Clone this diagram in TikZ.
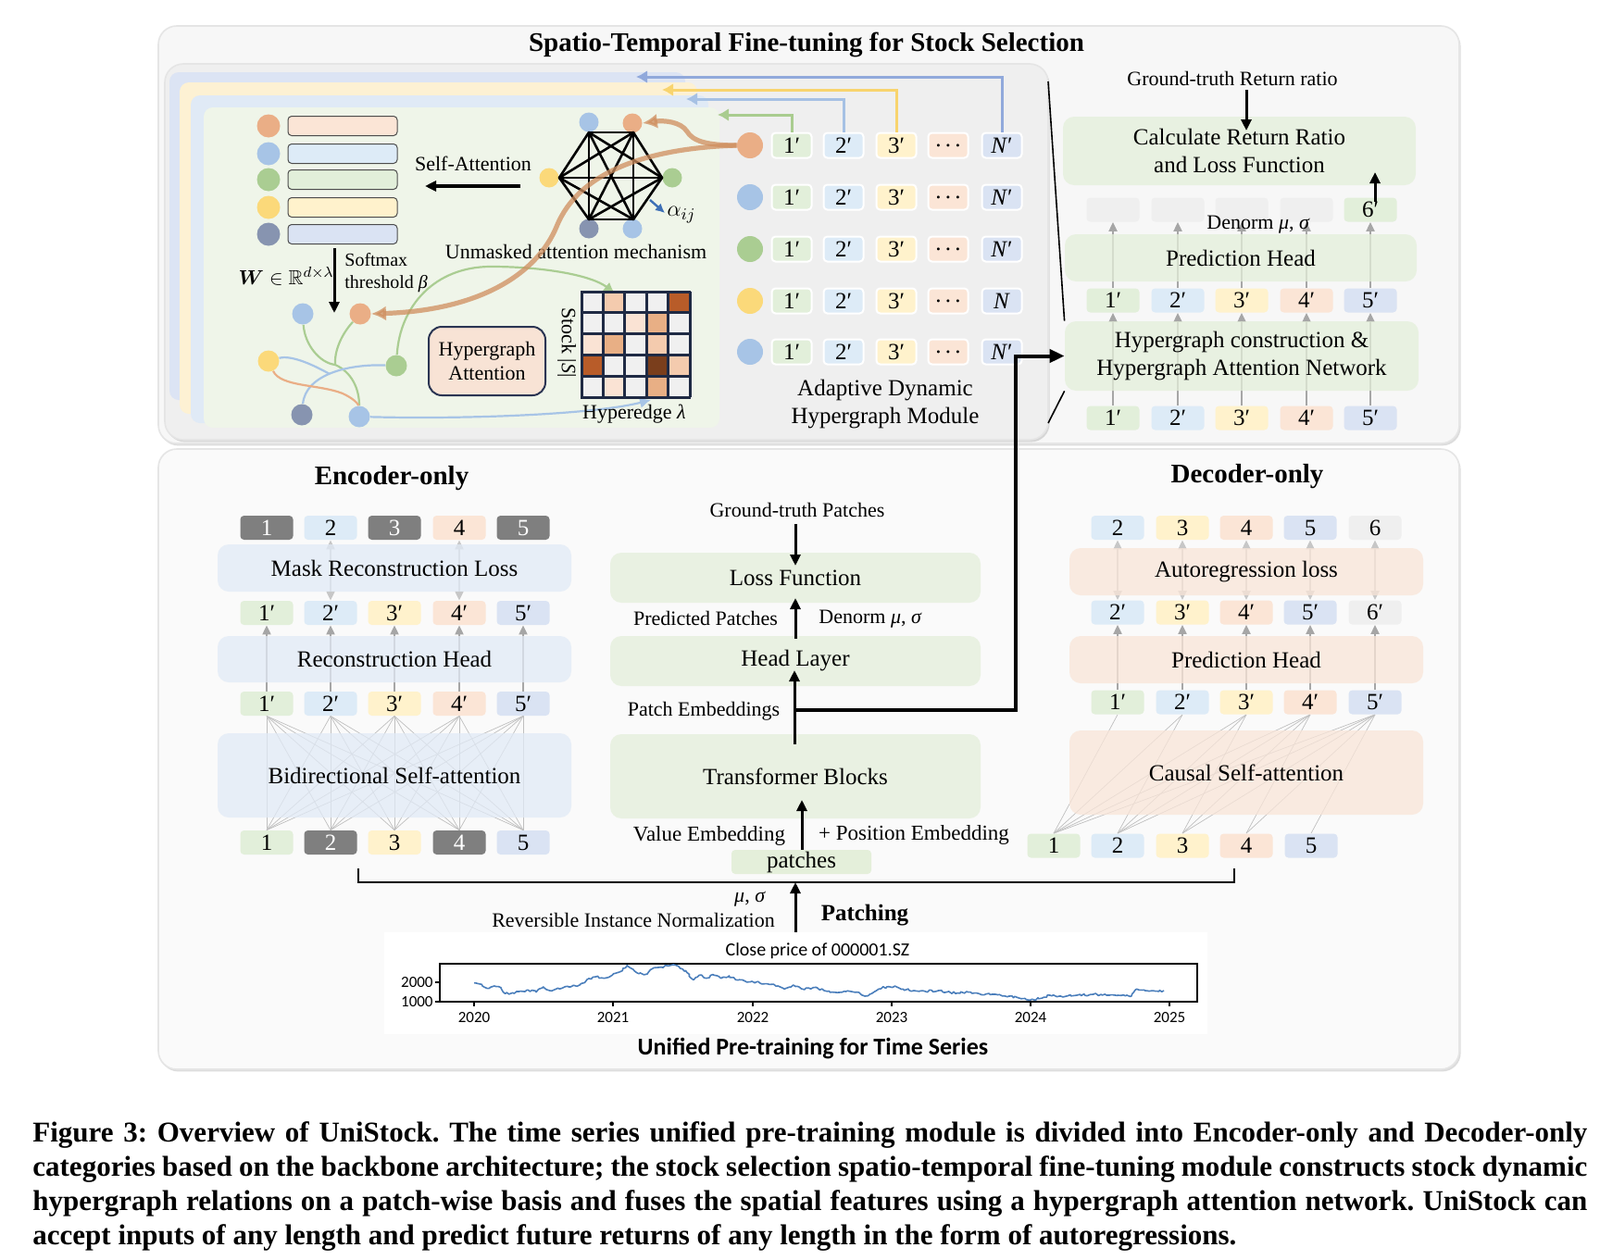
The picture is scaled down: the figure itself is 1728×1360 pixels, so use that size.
\documentclass[tikz,border=0pt]{standalone}
\usepackage{amssymb}
\usepackage{bm}
\usepackage{fontspec}
\setmainfont{Liberation Serif}
\newfontfamily\chartfont{Carlito}
\usetikzlibrary{arrows.meta,shadows,decorations.pathmorphing}
\pgfdeclarelayer{bg}
\pgfdeclarelayer{ln}
\pgfsetlayers{bg,ln,main}
\definecolor{cG}{HTML}{E2EFDA}
\definecolor{cB}{HTML}{DDEBF7}
\definecolor{cY}{HTML}{FFF2CC}
\definecolor{cO}{HTML}{FBE5D6}
\definecolor{cS}{HTML}{DAE3F3}
\definecolor{cGr}{HTML}{EFEFEF}
\definecolor{cDk}{HTML}{7F7F7F}
\definecolor{bxG}{HTML}{E4EFDA}
\definecolor{bxB}{HTML}{E1EAF6}
\definecolor{bxO}{HTML}{F9E5D8}
\definecolor{ciO}{HTML}{EAAE86}
\definecolor{ciB}{HTML}{A7C4E6}
\definecolor{ciG}{HTML}{AACD92}
\definecolor{ciY}{HTML}{FBD97A}
\definecolor{ciS}{HTML}{8794B0}
\definecolor{panA}{HTML}{F7F7F7}
\definecolor{panC}{HTML}{FAFAFA}
\definecolor{panB}{HTML}{EFEFEF}
\definecolor{shB}{HTML}{DCE4F4}
\definecolor{shY}{HTML}{FDF1D3}
\definecolor{shL}{HTML}{E0EAF6}
\definecolor{shG}{HTML}{EFF5E9}
\definecolor{arG}{HTML}{A9CC8F}
\definecolor{arL}{HTML}{A6C1E4}
\definecolor{arY}{HTML}{F8D46E}
\definecolor{arB}{HTML}{91A9DB}
\definecolor{orc}{HTML}{CF8E5E}
\definecolor{navy}{HTML}{1F2A44}
\definecolor{mg}{HTML}{F0F0F0}
\definecolor{mL}{HTML}{F4CBAE}
\definecolor{m0}{HTML}{FAE3D4}
\definecolor{mM}{HTML}{E8AF85}
\definecolor{mD}{HTML}{B85C29}
\definecolor{mX}{HTML}{7A3E1C}
\definecolor{hab}{HTML}{F8E3D5}
\definecolor{hbd}{HTML}{2B3553}
\definecolor{series}{HTML}{4A7EBB}
\definecolor{alphaB}{HTML}{3D6FB6}
\tikzset{
  tok/.style={rounded corners=2pt, minimum width=28.5pt, minimum height=13pt, inner sep=0pt, font=\fontsize{12.5}{14}\selectfont},
  stok/.style={tok, minimum width=21.5pt, minimum height=13.5pt, draw=white, line width=1pt},
  blk/.style={rounded corners=6pt, inner sep=0pt, font=\fontsize{12.5}{15}\selectfont, align=center, fill opacity=0.75, text opacity=1},
  garrow/.style={draw=black!35, line width=1pt, -{Triangle[length=5pt,width=4.5pt]}},
  gdarrow/.style={draw=black!22, line width=1pt, {Triangle[length=5pt,width=4.5pt]}-{Triangle[length=5pt,width=4.5pt]}},
  attn/.style={draw=black!25, line width=0.35pt},
  barrow/.style={draw=black, line width=1.5pt, -{Triangle[length=6pt,width=5.5pt]}},
  lbl/.style={font=\fontsize{11}{13}\selectfont, inner sep=0pt},
  circ/.style={circle, inner sep=0pt},
  colar/.style={line width=1.5pt, -{Latex[length=6pt,width=7pt]}},
  hgG/.style={draw=ciG, line width=1.1pt},
  hgB/.style={draw=ciB, line width=1.1pt},
  hgO/.style={draw=ciO, line width=1.1pt},
  panel/.style={rounded corners=10pt, draw=black!10, line width=0.8pt, drop shadow={shadow xshift=0.8pt, shadow yshift=-1.2pt, opacity=0.3, fill=black!45}},
  capline/.style={anchor=base west, inner sep=0pt, font=\bfseries\fontsize{15.5}{17}\selectfont},
}
\begin{document}
\frenchspacing
\begin{tikzpicture}[x=0.5pt,y=-0.5pt]
\useasboundingbox (0,0) rectangle (1728,1360);
\begin{pgfonlayer}{bg}
\fill[white] (0,0) rectangle (1728,1360);
\path[panel, fill=panA] (171,28) rectangle (1576,479);
\path[panel, fill=panC] (171,485) rectangle (1576,1155);
\path[panel, fill=panB] (178,69) rectangle (1132,475);
\fill[shB, rounded corners=5pt] (183,78) rectangle (740,432);
\fill[shY, rounded corners=5pt] (194,89) rectangle (753,447);
\fill[shL, rounded corners=5pt] (206,103) rectangle (765,457);
\fill[shG, rounded corners=5pt] (220,116) rectangle (777,462);
\end{pgfonlayer}

% ===== title
\node[font=\bfseries\fontsize{14.5}{16}\selectfont, inner sep=0pt] (title) at (871,48) {Spatio-Temporal Fine-tuning for Stock Selection};

% ===== feature bars
\foreach \y/\c/\f [count=\i] in {136/ciO/cO,166/ciB/cB,194/ciG/cG,224/ciY/cY,253/ciS/cS} {
  \node[circ, fill=\c, minimum size=12.5pt] (fc\i) at (290,\y) {};
  \node[draw=black!70, line width=0.5pt, fill=\f, rounded corners=2pt, minimum width=59pt, minimum height=10.5pt, inner sep=0pt] (fb\i) at (370,\y) {};
}
\node[lbl] (sa) at (511,177) {Self-Attention};
\coordinate (saA) at (562,201);
\coordinate (saB) at (459,201);
\draw[barrow, line width=2pt] (saA) -- (saB);

% ===== hexagon
\coordinate (h1) at (636,143);
\coordinate (h2) at (684,143);
\coordinate (h3) at (715,192);
\coordinate (h4) at (684,237);
\coordinate (h5) at (636,237);
\coordinate (h6) at (604,192);
\node[circ, fill=ciB, minimum size=10.5pt] (hc1) at (636,132) {};
\node[circ, fill=ciO, minimum size=10.5pt] (hc2) at (683,133) {};
\node[circ, fill=ciG, minimum size=10.5pt] (hc3) at (726,192) {};
\node[circ, fill=ciB, minimum size=10.5pt] (hc4) at (683,247) {};
\node[circ, fill=ciS, minimum size=10.5pt] (hc5) at (636,247) {};
\node[circ, fill=ciY, minimum size=10.5pt] (hc6) at (593,192) {};
\foreach \a/\b in {1/2,1/3,1/4,1/5,1/6,2/3,2/4,2/5,2/6,3/4,3/5,3/6,4/5,4/6,5/6}
  \draw[line width=1.3pt, line cap=round] (h\a) -- (h\b);
\coordinate (alA) at (702,216);
\coordinate (alB) at (718,230);
\draw[draw=alphaB, line width=1.2pt, -{Latex[length=5pt,width=5pt]}] (alA) -- (alB);
\node[font=\fontsize{13}{15}\selectfont, inner sep=0pt] (alpha) at (736,232) {$\alpha_{ij}$};
\node[lbl] (unm) at (622,272) {Unmasked attention mechanism};

% ===== W / softmax
\coordinate (wA) at (361,268);
\coordinate (wB) at (361,338);
\draw[barrow] (wA) -- (wB);
\node[font=\fontsize{11}{13}\selectfont, inner sep=0pt] (wlab) at (309,298) {$\bm{W}\in\mathbb{R}^{d\times\lambda}$};
\node[anchor=west, font=\fontsize{10}{12}\selectfont, inner sep=0pt] (smx) at (372,281) {Softmax};
\node[anchor=west, font=\fontsize{10}{12}\selectfont, inner sep=0pt] (thr) at (372,307) {threshold \textit{β}};

% ===== hypergraph nodes
\node[circ, fill=ciB, minimum size=11.5pt] (hn1) at (327,339) {};
\node[circ, fill=ciO, minimum size=11.5pt] (hn2) at (389,339) {};
\node[circ, fill=ciY, minimum size=11.5pt] (hn3) at (290,390) {};
\node[circ, fill=ciG, minimum size=11.5pt] (hn4) at (428,395) {};
\node[circ, fill=ciS, minimum size=11.5pt] (hn5) at (326,448) {};
\node[circ, fill=ciB, minimum size=11.5pt] (hn6) at (388,450) {};
\coordinate (jg) at (362,394);
\coordinate (jb) at (356,404);
\coordinate (jo) at (370,425);
\coordinate (mtop) at (664,317);
\coordinate (mbot) at (703,432);
\begin{pgfonlayer}{ln}
\draw[hgG] (hn1) .. controls (329,372) and (345,392) .. (jg);
\draw[hgG] (hn2) .. controls (368,362) and (361,380) .. (jg);
\draw[hgG] (jg) .. controls (380,402) and (388,420) .. (hn6);
\draw[hgB] (hn3) .. controls (315,383) and (340,395) .. (jb);
\draw[hgB] (hn4) .. controls (375,393) and (330,405) .. (hn5);
\draw[hgO] (hn3) .. controls (303,418) and (345,415) .. (jo) .. controls (381,430) and (387,436) .. (hn6);
\end{pgfonlayer}
\draw[hgG, -{Latex[length=6pt,width=6pt]}] (hn4) .. controls (432,330) and (470,288) .. (530,288) .. controls (590,288) and (640,298) .. (mtop);
\draw[hgB, -{Latex[length=6pt,width=6pt]}] (hn6) .. controls (500,453) and (640,448) .. (mbot);

% ===== hypergraph attention box
\node[draw=hbd, line width=1pt, fill=hab, rounded corners=7pt, minimum width=63pt, minimum height=37pt, inner sep=0pt, align=center, font=\fontsize{11}{13}\selectfont] (hga) at (526,390) {Hypergraph\\Attention};

% ===== matrix
\foreach \row [count=\r] in {{mg,mL,mg,mg,mD},{mg,mg,m0,mM,mg},{m0,mM,mg,mL,mg},{mD,mg,mg,mX,mL},{mg,m0,mg,mM,mg}} {
  \foreach \c [count=\k] in \row {
    \fill[\c] ({628+(\k-1)*23.4},{315+(\r-1)*22.8}) rectangle ++(23.4,22.8);
  }
}
\foreach \k in {0,...,5} {
  \draw[navy, line width=1.5pt] ({628+\k*23.4},315) -- ({628+\k*23.4},429);
  \draw[navy, line width=1.5pt] (627.3,{315+\k*22.8}) -- (745.7,{315+\k*22.8});
}
\node[inner sep=0pt, minimum width=58.5pt, minimum height=57pt] (mat) at (686.5,372) {};
\node[lbl, rotate=-90] (stk) at (612,370) {Stock |\textit{S}|};
\node[lbl] (hye) at (685,447) {Hyperedge \textit{λ}};

% ===== token grid of module
\foreach \r/\y/\cc/\last in {1/157/ciO/{\textit{N}′},2/213/ciB/{\textit{N}′},3/269/ciG/{\textit{N}′},4/325/ciY/{\textit{N}},5/380/ciB/{\textit{N}′}} {
  \node[circ, fill=\cc, minimum size=14pt] (sc\r) at (810,\y) {};
  \node[stok, fill=cG] (s\r1) at (855,\y) {1′};
  \node[stok, fill=cB] (s\r2) at (911,\y) {2′};
  \node[stok, fill=cY] (s\r3) at (968,\y) {3′};
  \node[stok, fill=cO] (s\r4) at (1024,\y) {.\,.\,.};
  \node[stok, fill=cS] (s\r5) at (1082,\y) {\last};
}
\coordinate (tgG) at (775,124);
\coordinate (tgL) at (741,107);
\coordinate (tgY) at (715,97);
\coordinate (tgB) at (687,83);
\draw[colar, draw=arG] (s11.north) |- (tgG);
\draw[colar, draw=arL] (s12.north) |- (tgL);
\draw[colar, draw=arY] (s13.north) |- (tgY);
\draw[colar, draw=arB] (s15.north) |- (tgB);
\node[blk, fill opacity=0] (adm) at (956,437) {Adaptive Dynamic\\Hypergraph Module};

% ===== orange attention arrows
\draw[draw=orc, opacity=0.75, line width=2.6pt, -{Latex[length=8pt,width=8pt]}] (sc1.west) .. controls (762,157) and (748,152) .. (742,142) .. controls (735,131) and (716,130) .. (hc2.east);
\draw[draw=orc, opacity=0.75, line width=2.6pt, -{Latex[length=8pt,width=8pt]}] (sc1.west) .. controls (700,160) and (625,185) .. (601,245) .. controls (580,295) and (520,335) .. (hn2.east);

% ===== top right column
\node[lbl] (gtr) at (1331,85) {Ground-truth Return ratio};
\node[blk, fill=bxG, minimum width=190.5pt, minimum height=37pt] (calc) at (1338.5,163) {Calculate Return Ratio\\and Loss Function};
\coordinate (gtA) at (1346,97);
\coordinate (gtB) at (1346,141);
\draw[barrow] (gtA) -- (gtB);
\foreach \x/\f/\t [count=\i] in {1202/cGr/{},1272/cGr/{},1341/cGr/{},1411/cGr/{},1480/cG/6′}
  \node[tok, fill=\f] (g\i) at (\x,226.5) {\t};
\node[blk, fill=bxG, minimum width=190pt, minimum height=25.5pt] (tph) at (1340,278.5) {Prediction Head};
\foreach \x/\f [count=\i] in {1202/cG,1272/cB,1341/cY,1411/cO,1480/cS} {
  \node[tok, fill=\f] (r\i) at (\x,324.5) {\i′};
  \node[tok, fill=\f] (q\i) at (\x,451.5) {\i′};
}
\node[blk, fill=bxG, minimum width=191pt, minimum height=37.5pt] (hgc) at (1341,384.5) {Hypergraph construction \&\\Hypergraph Attention Network};
\begin{pgfonlayer}{ln}
\foreach \i in {1,...,5} {
  \draw[garrow] (q\i.north) -- (r\i.south);
  \draw[garrow] (r\i.north) -- (g\i.south);
}
\end{pgfonlayer}
\coordinate (sxA) at (1485,218);
\coordinate (sxB) at (1485,186);
\draw[barrow] (sxA) -- (sxB);
\node[lbl] (dnm) at (1359,243) {Denorm \textit{μ}, \textit{σ}};
\coordinate (dv1) at (1132,88);
\coordinate (dv2) at (1132,457);
\draw[line width=0.8pt] (dv1) -- (hgc.north west);
\draw[line width=0.8pt] (hgc.south west) -- (dv2);

% ===== encoder
\node[font=\bfseries\fontsize{14.5}{16}\selectfont, inner sep=0pt] (enc) at (423,517) {Encoder-only};
\foreach \x/\t/\f/\tc [count=\i] in {288/1/cDk/white,357/2/cB/black,426/3/cDk/white,496/4/cO/black,565/5/cDk/white}
  \node[tok, fill=\f, text=\tc] (et\i) at (\x,570) {\t};
\foreach \x/\f [count=\i] in {288/cG,357/cB,426/cY,496/cO,565/cS} {
  \node[tok, fill=\f] (er\i) at (\x,662) {\i′};
  \node[tok, fill=\f] (eh\i) at (\x,760) {\i′};
}
\foreach \x/\t/\f/\tc [count=\i] in {288/1/cG/black,357/2/cDk/white,426/3/cY/black,496/4/cDk/white,565/5/cS/black}
  \node[tok, fill=\f, text=\tc] (eb\i) at (\x,910) {\t};
\node[blk, fill=bxB, minimum width=191pt, minimum height=25.5pt] (mrl) at (426,613.5) {Mask Reconstruction Loss};
\node[blk, fill=bxB, minimum width=191pt, minimum height=25pt] (rch) at (426,712) {Reconstruction Head};
\node[blk, fill=bxB, minimum width=191pt, minimum height=45.5pt] (bsa) at (426,837.5) {Bidirectional Self-attention};
\begin{pgfonlayer}{ln}
\foreach \i in {1,...,5} {
  \draw[garrow] (eh\i.north) -- (er\i.south);
  \foreach \j in {1,...,5} \draw[attn] (eb\i.north) -- (eh\j.south);
}
\draw[gdarrow] (er2.north) -- (et2.south);
\draw[gdarrow] (er4.north) -- (et4.south);
\end{pgfonlayer}

% ===== decoder
\node[font=\bfseries\fontsize{14.5}{16}\selectfont, inner sep=0pt] (dec) at (1347,515) {Decoder-only};
\foreach \x/\t/\f [count=\i] in {1207/2/cB,1277/3/cY,1346/4/cO,1415/5/cS,1485/6/cGr}
  \node[tok, fill=\f] (dt\i) at (\x,570) {\t};
\foreach \x/\t/\f [count=\i] in {1207/2′/cB,1277/3′/cY,1346/4′/cO,1415/5′/cS,1485/6′/cGr}
  \node[tok, fill=\f] (dr\i) at (\x,661.5) {\t};
\foreach \x/\f [count=\i] in {1207/cG,1277/cB,1346/cY,1415/cO,1485/cS}
  \node[tok, fill=\f] (dh\i) at (\x,758.5) {\i′};
\foreach \x/\f [count=\i] in {1138/cG,1207/cB,1277/cY,1346/cO,1416/cS}
  \node[tok, fill=\f] (db\i) at (\x,913.5) {\i};
\node[blk, fill=bxO, minimum width=191pt, minimum height=25.5pt] (arl) at (1346,617.5) {Autoregression loss};
\node[blk, fill=bxO, minimum width=191pt, minimum height=25.5pt] (dph) at (1346,712.5) {Prediction Head};
\node[blk, fill=bxO, minimum width=191pt, minimum height=45.5pt] (csa) at (1346,834.5) {Causal Self-attention};
\begin{pgfonlayer}{ln}
\foreach \i in {1,...,5} {
  \draw[garrow] (dh\i.north) -- (dr\i.south);
  \draw[gdarrow] (dr\i.north) -- (dt\i.south);
}
\foreach \j in {1,...,5} \foreach \i in {\j,...,5} \draw[attn] (db\j.north) -- (dh\i.south);
\end{pgfonlayer}

% ===== middle
\node[lbl] (gtp) at (861,551) {Ground-truth Patches};
\node[blk, fill=bxG, minimum width=200pt, minimum height=27pt] (lsf) at (859,624) {Loss Function};
\node[blk, fill=bxG, minimum width=200pt, minimum height=27pt] (hdl) at (859,714) {Head Layer};
\node[blk, fill=bxG, minimum width=200pt, minimum height=45.5pt] (trb) at (859,838.5) {Transformer Blocks};
\node[tok, fill=bxG, minimum width=75.5pt] (pch) at (865.5,931) {patches};
\node[lbl] (prp) at (762,668) {Predicted Patches};
\node[lbl] (dn2) at (940,669) {Denorm \textit{μ}, \textit{σ}};
\node[lbl] (pem) at (760,768) {Patch Embeddings};
\node[lbl, font=\fontsize{11.5}{13}\selectfont] (vem) at (766,903) {Value Embedding};
\node[lbl, font=\fontsize{11.5}{13}\selectfont] (pos) at (987,902) {+ Position Embedding};
\coordinate (gpA) at (859,566);
\coordinate (gpB) at (859,611);
\draw[barrow] (gpA) -- (gpB);
\coordinate (hlA) at (859,690);
\coordinate (hlB) at (859,646);
\draw[barrow] (hlA) -- (hlB);
\coordinate (tbA) at (858,804);
\coordinate (tbB) at (858,724);
\draw[barrow] (tbA) -- (tbB);
\coordinate (ptB) at (866,864);
\draw[barrow] (pch.north -| ptB) -- (ptB);
\coordinate (pej) at (858,767);
\coordinate (rt1) at (1097,767);
\draw[line width=2pt, -{Triangle[length=8pt,width=7pt]}] (pej) -- (rt1) |- (hgc.west);

% ===== bracket and normalization
\coordinate (bk1) at (387,938);
\coordinate (bk2) at (387,953);
\coordinate (bk3) at (1333,953);
\coordinate (bk4) at (1333,938);
\draw[line width=1.2pt] (bk1) -- (bk2) -- (bk3) -- (bk4);
\coordinate (rnA) at (859,1007);
\coordinate (rnB) at (859,953);
\draw[barrow] (rnA) -- (rnB);
\node[lbl] (musig) at (810,971) {\textit{μ}, \textit{σ}};
\node[lbl] (rin) at (684,994) {Reversible Instance Normalization};
\node[font=\bfseries\fontsize{12.5}{14}\selectfont, inner sep=0pt] (ptc) at (934,989) {Patching};

% ===== chart
\fill[white] (415,1007) rectangle (1304,1117);
\node[font=\chartfont\fontsize{10}{12}\selectfont, inner sep=0pt] (ctitle) at (883,1027) {Close price of 000001.SZ};
\draw[line width=0.6pt] (475,1041) rectangle (1293,1082);
\foreach \y/\l in {1061/2000,1082/1000} {
  \draw[line width=0.6pt] (475,\y) -- (470,\y);
  \node[anchor=east, font=\chartfont\fontsize{8.5}{10}\selectfont, inner sep=0pt] at (468,\y) {\l};
}
\foreach \x/\l in {512/2020,662/2021,813/2022,963/2023,1113/2024,1263/2025} {
  \draw[line width=0.6pt] (\x,1082) -- (\x,1087);
  \node[font=\chartfont\fontsize{8.5}{10}\selectfont, inner sep=0pt] at (\x,1099) {\l};
}
\begin{scope}[shift={(400,940)}, xscale=0.587, yscale=0.3333]
\draw[series, line width=0.8pt, line join=round, decorate, decoration={random steps, segment length=1.2pt, amplitude=0.6pt}]
 (191,365) -- (205,370) -- (215,383) -- (228,375) -- (240,380) -- (248,400) -- (262,397) -- (290,388) -- (305,395) -- (318,378) -- (330,390) -- (345,382) -- (365,378) -- (385,372) -- (398,355) -- (415,345) -- (430,350) -- (445,340) -- (458,330) -- (472,308) -- (480,318) -- (490,332) -- (505,338) -- (518,320) -- (530,315) -- (548,310) -- (558,306) -- (570,318) -- (580,325) -- (595,355) -- (605,340) -- (618,350) -- (630,338) -- (645,350) -- (660,342) -- (672,355) -- (690,360) -- (710,362) -- (730,368) -- (750,375) -- (762,385) -- (778,372) -- (795,385) -- (815,380) -- (835,390) -- (850,395) -- (875,393) -- (895,395) -- (910,408) -- (922,400) -- (935,385) -- (950,378) -- (965,375) -- (980,385) -- (1000,390) -- (1020,392) -- (1045,390) -- (1060,395) -- (1080,398) -- (1100,395) -- (1120,400) -- (1150,402) -- (1175,408) -- (1195,415) -- (1215,420) -- (1235,415) -- (1250,405) -- (1270,408) -- (1300,405) -- (1330,402) -- (1360,405) -- (1385,404) -- (1400,408) -- (1410,385) -- (1425,390) -- (1445,392) -- (1460,390);
\end{scope}
\node[font=\chartfont\bfseries\fontsize{13}{15}\selectfont, inner sep=0pt] (upt) at (878,1133) {Unified Pre-training for Time Series};

% ===== caption
\node[capline] (cap1) at (35,1233) {\makebox[839.5pt][s]{Figure 3: Overview of UniStock. The time series unified pre-training module is divided into Encoder-only and Decoder-only}};
\node[capline] (cap2) at (35,1270) {\makebox[839.5pt][s]{categories based on the backbone architecture; the stock selection spatio-temporal fine-tuning module constructs stock dynamic}};
\node[capline] (cap3) at (35,1307) {\makebox[839.5pt][s]{hypergraph relations on a patch-wise basis and fuses the spatial features using a hypergraph attention network. UniStock can}};
\node[capline] (cap4) at (35,1344) {accept inputs of any length and predict future returns of any length in the form of autoregressions.};
\end{tikzpicture}
\end{document}
